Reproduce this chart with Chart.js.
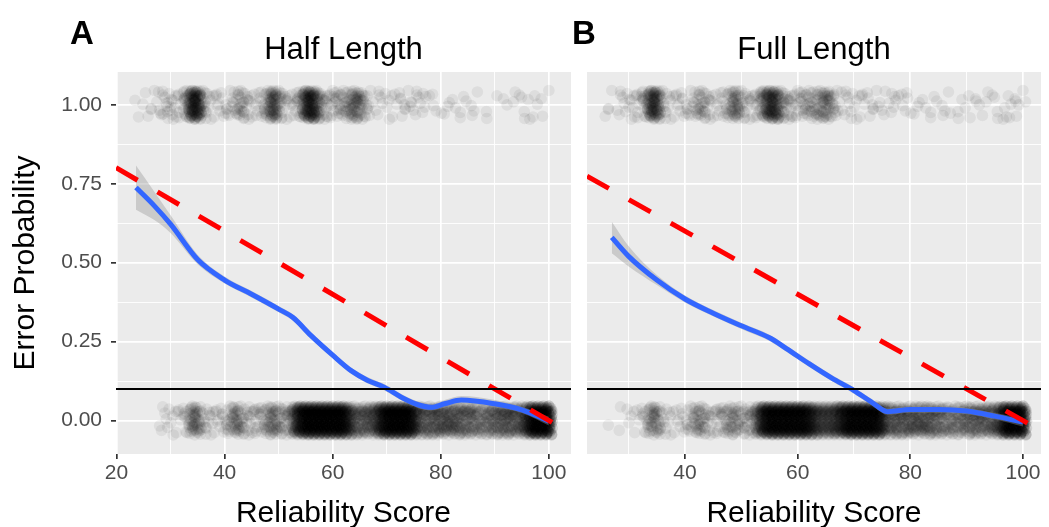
<!DOCTYPE html>
<html><head><meta charset="utf-8">
<script src="https://cdn.jsdelivr.net/npm/chart.js@4.4.1/dist/chart.umd.min.js"></script>
<style>
html,body{margin:0;padding:0;background:#fff;width:1049px;height:527px;overflow:hidden;font-family:"Liberation Sans",Arial,sans-serif}
#wrap{position:relative;width:1049px;height:527px}
canvas{position:absolute;top:0}
.lbl{position:absolute;white-space:nowrap;line-height:1;color:#000}
.tag{font-weight:bold;font-size:33px}
.strip{font-size:31px;text-align:center}
</style></head><body>
<div id="wrap">
<canvas id="cA" width="580" height="527" style="left:0;width:580px;height:527px"></canvas>
<canvas id="cB" width="469" height="527" style="left:580px;width:469px;height:527px"></canvas>
<div class="lbl tag" style="left:70px;top:16px">A</div>
<div class="lbl tag" style="left:572px;top:16px">B</div>
<div class="lbl strip" style="left:116px;width:455px;top:33px">Half Length</div>
<div class="lbl strip" style="left:587px;width:454px;top:33px">Full Length</div>
</div>
<script>
// ---------- DATA ----------
const PANEL_TITLES = ["Half Length", "Full Length"];
const X_TITLE = "Reliability Score";
const Y_TITLE = "Error Probability";
const X_MAJOR = [20, 40, 60, 80, 100];
const X_MINOR = [30, 50, 70, 90];
const Y_MAJOR = [0, 0.25, 0.5, 0.75, 1.0];
const Y_MINOR = [0.125, 0.375, 0.625, 0.875];

// reliability score values (x) at which jittered observations sit
const SCORES = [24,25,26,27,28,29,30,31,32,33,
  34,35,36,37,38,39,40,41,42,43,
  44,45,46,47,48,49,50,51,52,53,
  54,55,56,57,58,59,60,61,62,63,
  64,65,66,67,68,69,70,71,72,73,
  74,75,76,77,78,79,80,81,82,83,
  84,85,86,87,88,89,90,91,92,93,
  94,95,96,97,98,99,100];

// counts of observations with error (y = 1) and without (y = 0), per score
const A_ERR = [2,2,2,3,5,6,8,6,5,20,
  60,60,15,5,5,4,5,6,9,16,
  9,5,5,7,20,45,20,6,6,7,
  12,50,65,35,12,9,10,11,12,16,
  28,24,9,4,3,3,3,3,4,4,
  4,4,4,3,2,2,1,2,2,2,
  2,2,2,1,1,1,1,1,1,1,
  2,2,3,2,2,1,1];
const A_OK = [0,0,0,0,2,3,4,4,3,9,
  25,25,7,6,6,5,7,12,25,14,
  9,9,9,9,18,25,16,12,14,45,
  70,80,80,80,80,80,80,80,80,50,
  30,28,28,30,40,65,80,80,80,80,
  80,60,30,28,28,30,30,30,30,28,
  26,26,24,20,20,24,26,28,30,30,
  28,32,55,85,85,85,85];
const B_ERR = [0,0,2,2,3,3,5,6,6,14,
  50,45,9,5,5,5,5,6,11,16,
  9,5,5,7,16,30,12,7,7,9,
  28,50,50,20,11,9,9,11,13,13,
  18,26,14,6,4,4,4,4,3,4,
  3,3,3,3,3,3,2,2,2,2,
  2,2,2,2,1,2,2,2,2,2,
  2,2,2,3,3,3,2];
const B_OK = [0,0,0,1,1,1,2,3,3,9,
  22,22,7,4,4,4,6,9,18,18,
  9,7,9,12,18,18,12,12,14,40,
  70,80,80,80,80,80,80,80,70,50,
  40,40,40,50,65,80,80,80,80,80,
  80,55,30,30,30,30,30,30,30,30,
  28,26,22,20,20,22,26,28,28,28,
  28,30,50,85,85,85,85];

// loess fit (blue) and its standard-error half width (grey ribbon)
const A_FIT_X  = [23.6, 27, 30, 35, 40, 45, 50, 52.6, 56, 60, 63.4, 66.5, 69.6, 72.7, 75.8, 78.2, 80.7, 83.8, 90, 95, 100];
const A_FIT_Y  = [0.738, 0.68, 0.622, 0.51, 0.445, 0.40, 0.353, 0.327, 0.269, 0.207, 0.158, 0.127, 0.105, 0.074, 0.05, 0.042, 0.053, 0.065, 0.053, 0.034, -0.002];
const A_FIT_SE = [0.07, 0.045, 0.028, 0.015, 0.011, 0.01, 0.01, 0.01, 0.01, 0.01, 0.01, 0.01, 0.01, 0.01, 0.01, 0.01, 0.012, 0.013, 0.012, 0.01, 0.014];
const B_FIT_X  = [27, 30, 35, 40, 45, 50, 55, 58, 62, 66, 70, 73, 76, 80, 85, 90, 95, 100];
const B_FIT_Y  = [0.58, 0.52, 0.445, 0.385, 0.34, 0.30, 0.262, 0.228, 0.18, 0.135, 0.095, 0.06, 0.028, 0.035, 0.035, 0.03, 0.014, -0.005];
const B_FIT_SE = [0.05, 0.032, 0.016, 0.011, 0.01, 0.01, 0.01, 0.01, 0.01, 0.01, 0.01, 0.01, 0.01, 0.01, 0.01, 0.01, 0.01, 0.014];

// red dashed reference line endpoints, black threshold line
const A_REF_X = [19.9, 104.1];
const A_REF_Y = [0.801, -0.041];
const B_REF_X = [22.6, 103.2];
const B_REF_Y = [0.774, -0.032];
const THRESHOLD = 0.1;

// fixed jitter table (fractions of the jitter box)
const JIT_DX = [-0.9,0.1,0.6,-0.4,0.95,-0.7,0.3,-0.1,0.8,-0.55,0.45,-0.95,0.0,0.7,-0.3,0.2,-0.8,0.55,-0.2,0.9,
  -0.6,0.35,-0.45,0.05,0.75,-0.85,0.25,-0.65,0.5,-0.05,0.85,-0.35,0.15,-0.75,0.65,-0.25,0.4,-0.5,0.98,-0.15];
const JIT_DY = [0.3,-0.8,0.6,-0.2,-0.5,0.9,0.1,0.5,-0.9,-0.6,-0.1,-0.3,0.95,0.2,-0.7,-0.4,0.7,0.8,0.05,0.4,
  -0.85,0.55,0.75,-0.15,-0.95,-0.45,0.35,0.15,-0.65,-0.35,0.65,0.85,-0.55,0.45,-0.25,-0.75,0.0,0.25,-0.05,0.6];

// ---------- BUILD ----------
const FONT = '"Liberation Sans", Arial, sans-serif';
function bandPoints(counts, base) {
  const pts = [];
  SCORES.forEach((s, i) => {
    for (let k = 0; k < counts[i]; k++) {
      const j = (k + i * 17) % JIT_DX.length;
      pts.push({x: s + JIT_DX[j] * 0.65, y: base + JIT_DY[j] * 0.048});
    }
  });
  return pts;
}
function xy(xs, ys) { return xs.map((x, i) => ({x, y: ys[i]})); }

const bgPlugin = {
  id: 'panelBg',
  beforeDraw(chart) {
    const {ctx, chartArea: a} = chart;
    ctx.save();
    ctx.fillStyle = '#EBEBEB';
    ctx.fillRect(a.left, a.top, a.right - a.left, a.bottom - a.top);
    ctx.restore();
  }
};

function makePanel(id, cfg) {
  const xTicks = X_MAJOR.concat(X_MINOR).filter(v => v >= cfg.xmin && v <= cfg.xmax).sort((a, b) => a - b);
  const yTicks = Y_MAJOR.concat(Y_MINOR).sort((a, b) => a - b);
  const isMajX = v => X_MAJOR.includes(v);
  const isMajY = v => Y_MAJOR.some(m => Math.abs(m - v) < 1e-9);
  const upper = cfg.fx.map((x, i) => ({x, y: cfg.fy[i] + cfg.se[i]}));
  const lower = cfg.fx.map((x, i) => ({x, y: cfg.fy[i] - cfg.se[i]}));
  const smooth = {pointRadius: 0, cubicInterpolationMode: 'monotone'};
  return new Chart(document.getElementById(id), {
    type: 'scatter',
    data: {
      datasets: [
        {type: 'line', data: [{x: cfg.xmin, y: THRESHOLD}, {x: cfg.xmax, y: THRESHOLD}], borderColor: '#000', borderWidth: 2, pointRadius: 0, order: 1},
        {type: 'line', data: xy(cfg.rx, cfg.ry), borderColor: '#FF0000', borderWidth: 5, borderDash: [25, 23], borderCapStyle: 'butt', pointRadius: 0, order: 2},
        Object.assign({type: 'line', data: xy(cfg.fx, cfg.fy), borderColor: '#3366FF', borderWidth: 5, order: 3}, smooth),
        Object.assign({type: 'line', data: upper, borderWidth: 0, borderColor: 'rgba(0,0,0,0)', backgroundColor: 'rgba(153,153,153,0.4)', fill: '+1', order: 4}, smooth),
        Object.assign({type: 'line', data: lower, borderWidth: 0, borderColor: 'rgba(0,0,0,0)', fill: false, order: 5}, smooth),
        {data: bandPoints(cfg.err, 1), pointRadius: 5.8, pointBackgroundColor: 'rgba(0,0,0,0.06)', pointBorderWidth: 0, pointHoverRadius: 0, order: 6},
        {data: bandPoints(cfg.ok, 0), pointRadius: 5.8, pointBackgroundColor: 'rgba(0,0,0,0.06)', pointBorderWidth: 0, pointHoverRadius: 0, order: 7}
      ]
    },
    options: {
      responsive: false, animation: false, devicePixelRatio: 1, events: [],
      layout: {padding: {top: 72, right: cfg.padR, left: 0, bottom: 0}},
      plugins: {legend: {display: false}, tooltip: {enabled: false}},
      scales: {
        x: {
          type: 'linear', min: cfg.xmin, max: cfg.xmax,
          afterBuildTicks: s => { s.ticks = xTicks.map(v => ({value: v})); },
          afterFit: s => { s.height = 73; },
          ticks: {callback: v => isMajX(v) ? String(v) : '', font: {family: FONT, size: 21}, color: '#4D4D4D', padding: 2, maxRotation: 0, autoSkip: false},
          grid: {color: '#FFFFFF', lineWidth: c => (c.tick && isMajX(c.tick.value)) ? 1.7 : 0.9,
                 tickColor: c => (c.tick && isMajX(c.tick.value)) ? '#333333' : 'rgba(0,0,0,0)', tickLength: 5},
          border: {display: false},
          title: {display: true, text: X_TITLE, font: {family: FONT, size: 30, lineHeight: 1.0}, color: '#000', padding: {top: 0, bottom: -2}}
        },
        y: {
          type: 'linear', min: -0.106, max: 1.104,
          afterBuildTicks: s => { s.ticks = yTicks.map(v => ({value: v})); },
          afterFit: s => { s.width = cfg.yW; },
          ticks: {display: cfg.yLabels, callback: v => isMajY(v) ? v.toFixed(2) : '', font: {family: FONT, size: 21}, color: '#4D4D4D', padding: 9, autoSkip: false},
          grid: {color: '#FFFFFF', lineWidth: c => (c.tick && isMajY(c.tick.value)) ? 1.7 : 0.9,
                 drawTicks: cfg.yLabels,
                 tickColor: c => (c.tick && isMajY(c.tick.value)) ? '#333333' : 'rgba(0,0,0,0)', tickLength: 5},
          border: {display: false},
          title: {display: cfg.yLabels, text: Y_TITLE, font: {family: FONT, size: 30, lineHeight: 1.0}, color: '#000', padding: {top: 11, bottom: 0}}
        }
      }
    },
    plugins: [bgPlugin]
  });
}

makePanel('cA', {xmin: 19.9, xmax: 104.1, padR: 9, yW: 116, yLabels: true,
  err: A_ERR, ok: A_OK, fx: A_FIT_X, fy: A_FIT_Y, se: A_FIT_SE, rx: A_REF_X, ry: A_REF_Y});
makePanel('cB', {xmin: 22.6, xmax: 103.2, padR: 8, yW: 7, yLabels: false,
  err: B_ERR, ok: B_OK, fx: B_FIT_X, fy: B_FIT_Y, se: B_FIT_SE, rx: B_REF_X, ry: B_REF_Y});
</script>
</body></html>
